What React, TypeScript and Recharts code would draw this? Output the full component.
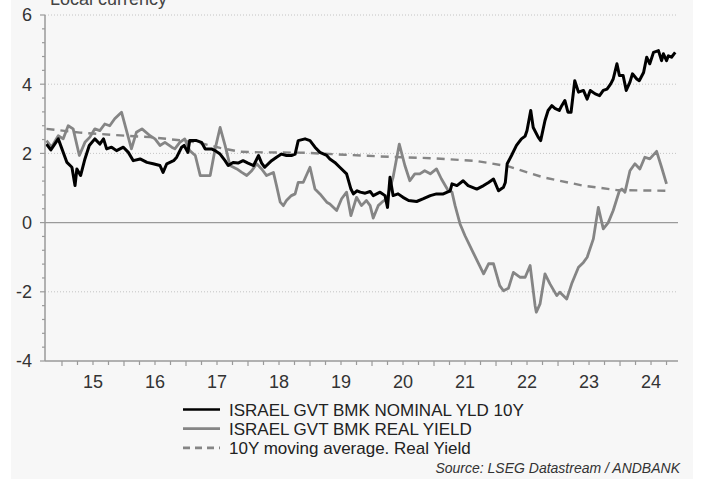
import React from 'react';
import { LineChart, Line, XAxis, YAxis, ReferenceLine } from 'recharts';

// ---- Data (fractional years, % yield) ----
const nominalDates = [
  2014.75, 2014.82, 2014.94, 2015.08, 2015.16, 2015.21, 2015.24, 2015.30, 2015.37, 2015.44,
  2015.53, 2015.61, 2015.67, 2015.72, 2015.80, 2015.88, 2015.99, 2016.07, 2016.15, 2016.26,
  2016.37, 2016.47, 2016.58, 2016.63, 2016.69, 2016.80, 2016.85, 2016.93, 2016.97, 2017.03,
  2017.06, 2017.17, 2017.25, 2017.31, 2017.41, 2017.47, 2017.55, 2017.63, 2017.68, 2017.76,
  2017.84, 2017.92, 2018.00, 2018.09, 2018.17, 2018.22, 2018.27, 2018.38, 2018.46, 2018.54,
  2018.62, 2018.70, 2018.76, 2018.81, 2018.92, 2019.00, 2019.08, 2019.16, 2019.27, 2019.32,
  2019.40, 2019.48, 2019.59, 2019.66, 2019.70, 2019.76, 2019.81, 2019.89, 2019.97, 2020.02,
  2020.13, 2020.21, 2020.25, 2020.29, 2020.34, 2020.42, 2020.50, 2020.59, 2020.72, 2020.83,
  2020.94, 2021.04, 2021.15, 2021.26, 2021.29, 2021.37, 2021.47, 2021.55, 2021.69, 2021.80,
  2021.88, 2021.96, 2022.04, 2022.12, 2022.15, 2022.18, 2022.25, 2022.33, 2022.41, 2022.47,
  2022.50, 2022.56, 2022.60, 2022.68, 2022.72, 2022.79, 2022.84, 2022.90, 2022.95, 2023.02,
  2023.06, 2023.11, 2023.16, 2023.21, 2023.27, 2023.33, 2023.41, 2023.47, 2023.52, 2023.60,
  2023.67, 2023.73, 2023.79, 2023.85, 2023.89, 2023.95, 2023.99, 2024.05, 2024.10, 2024.16,
  2024.20, 2024.27, 2024.31, 2024.38, 2024.43, 2024.48, 2024.54, 2024.62, 2024.67, 2024.70,
  2024.75, 2024.78, 2024.83, 2024.89,
];
const nominalYield = [
  2.27, 2.10, 2.42, 1.74, 1.60, 1.07, 1.55, 1.36, 1.84, 2.23,
  2.42, 2.27, 2.42, 2.13, 2.18, 2.08, 2.18, 2.03, 1.79, 1.84,
  1.74, 1.70, 1.65, 1.45, 1.70, 1.79, 1.89, 2.18, 2.23, 2.03,
  2.37, 2.37, 2.32, 2.13, 2.13, 2.08, 1.98, 1.79, 1.65, 1.74,
  1.72, 1.79, 1.72, 1.65, 1.94, 1.72, 1.60, 1.79, 1.89, 1.98,
  1.94, 1.94, 1.98, 2.37, 2.42, 2.37, 2.18, 2.03, 1.94, 1.84,
  1.74, 1.60, 1.41, 0.97, 0.83, 0.92, 0.88, 0.85, 0.90, 0.78,
  0.88, 0.78, 0.44, 1.31, 0.78, 0.83, 0.73, 0.64, 0.61, 0.69,
  0.78, 0.83, 0.83, 0.92, 1.12, 1.07, 1.21, 1.07, 0.97, 1.07,
  1.16, 1.26, 0.92, 1.02, 1.16, 1.70, 1.94, 2.23, 2.42, 2.50,
  2.66, 3.24, 2.75, 2.47, 2.37, 2.95, 3.24, 3.38, 3.30, 3.24,
  3.38, 3.53, 3.19, 3.19, 4.10, 3.77, 3.82, 3.57, 3.82, 3.72,
  3.67, 3.82, 3.86, 4.01, 4.15, 4.59, 4.25, 4.25, 3.82, 4.06,
  4.30, 4.15, 4.10, 4.34, 4.78, 4.59, 4.92, 4.97, 4.68, 4.88,
  4.68, 4.82, 4.78, 4.92,
];

const realDates = [
  2014.75, 2014.83, 2014.94, 2015.02, 2015.10, 2015.18, 2015.28, 2015.37, 2015.45, 2015.53,
  2015.61, 2015.69, 2015.77, 2015.85, 2015.96, 2016.12, 2016.20, 2016.29, 2016.42, 2016.50,
  2016.58, 2016.66, 2016.77, 2016.82, 2016.90, 2016.98, 2017.06, 2017.15, 2017.23, 2017.39,
  2017.47, 2017.55, 2017.63, 2017.71, 2017.82, 2017.90, 2017.98, 2018.06, 2018.14, 2018.22,
  2018.30, 2018.41, 2018.46, 2018.52, 2018.57, 2018.62, 2018.70, 2018.76, 2018.81, 2018.89,
  2019.00, 2019.08, 2019.16, 2019.27, 2019.32, 2019.43, 2019.51, 2019.59, 2019.66, 2019.75,
  2019.83, 2019.91, 2019.97, 2020.02, 2020.10, 2020.16, 2020.24, 2020.34, 2020.44, 2020.53,
  2020.61, 2020.69, 2020.77, 2020.85, 2020.94, 2021.04, 2021.12, 2021.23, 2021.29, 2021.34,
  2021.42, 2021.50, 2021.63, 2021.80, 2021.88, 2021.96, 2022.06, 2022.12, 2022.20, 2022.28,
  2022.39, 2022.47, 2022.55, 2022.63, 2022.65, 2022.71, 2022.79, 2022.87, 2022.98, 2023.03,
  2023.14, 2023.22, 2023.33, 2023.41, 2023.47, 2023.57, 2023.65, 2023.73, 2023.81, 2023.89,
  2023.99, 2024.03, 2024.08, 2024.16, 2024.24, 2024.32, 2024.40, 2024.48, 2024.59, 2024.67,
  2024.75,
];
const realYield = [
  2.37, 2.18, 2.51, 2.42, 2.80, 2.71, 1.94, 2.32, 2.47, 2.71,
  2.66, 2.85, 2.80, 3.00, 3.19, 2.13, 2.61, 2.71, 2.51, 2.42,
  2.23, 2.32, 2.18, 2.13, 2.32, 2.42, 2.08, 1.94, 1.36, 1.36,
  2.13, 2.75, 2.23, 1.65, 1.55, 1.45, 1.36, 1.50, 1.70, 1.55,
  1.36, 1.45, 1.07, 0.59, 0.49, 0.64, 0.78, 0.83, 1.16, 1.16,
  1.60, 0.97, 0.83, 0.59, 0.54, 0.35, 0.69, 0.88, 0.20, 0.73,
  0.49, 0.64, 0.49, 0.13, 0.49, 0.59, 0.69, 1.31, 2.27, 1.65,
  1.21, 1.41, 1.41, 1.50, 1.41, 1.55, 1.26, 0.92, 0.88, 0.49,
  -0.04, -0.38, -0.86, -1.48, -1.19, -1.19, -1.82, -1.97, -1.90, -1.44,
  -1.58, -1.58, -1.24, -2.40, -2.59, -2.35, -1.48, -1.77, -2.11, -2.01,
  -2.21, -1.77, -1.29, -1.15, -1.00, -0.47, 0.44, -0.18, 0.00, 0.35,
  0.92, 0.97, 0.88, 1.50, 1.70, 1.55, 1.89, 1.84, 2.06, 1.60,
  1.12,
];

const maDates = [
  2014.75, 2015.29, 2015.94, 2016.42, 2016.90, 2017.23, 2017.55, 2017.87, 2018.23, 2018.92,
  2019.56, 2020.29, 2020.98, 2021.69, 2022.19, 2022.76, 2023.40, 2023.95, 2024.76,
];
const maYield = [
  2.71, 2.60, 2.52, 2.47, 2.38, 2.30, 2.16, 2.05, 2.03, 2.02,
  1.96, 1.90, 1.86, 1.78, 1.63, 1.31, 1.07, 0.94, 0.92,
];

const yTicks = [
  -4, -3.6, -3.2, -2.8, -2.4, -2, -1.6, -1.2, -0.8, -0.4, 0,
  0.4, 0.8, 1.2, 1.6, 2, 2.4, 2.8, 3.2, 3.6, 4, 4.4, 4.8, 5.2, 5.6, 6,
];
const yLabelTicks = [-4, -2, 0, 2, 4, 6];
const xTicks = [
  2015, 2015.25, 2015.5, 2015.75, 2016, 2016.25, 2016.5, 2016.75,
  2017, 2017.25, 2017.5, 2017.75, 2018, 2018.25, 2018.5, 2018.75,
  2019, 2019.25, 2019.5, 2019.75, 2020, 2020.25, 2020.5, 2020.75,
  2021, 2021.25, 2021.5, 2021.75, 2022, 2022.25, 2022.5, 2022.75,
  2023, 2023.25, 2023.5, 2023.75, 2024, 2024.25, 2024.5, 2024.75,
];
const xLabelTicks = [2015.5, 2016.5, 2017.5, 2018.5, 2019.5, 2020.5, 2021.5, 2022.5, 2023.5, 2024.5];
const xLabels = ['15', '16', '17', '18', '19', '20', '21', '22', '23', '24'];
const dottedGrid = [6, 4, 2, -2];

const seriesNames = [
  'ISRAEL GVT BMK NOMINAL YLD 10Y',
  'ISRAEL GVT BMK REAL YIELD',
  '10Y moving average. Real Yield',
];

const nominalData = nominalDates.map((t, i) => ({ t, v: nominalYield[i] }));
const realData = realDates.map((t, i) => ({ t, v: realYield[i] }));
const maData = maDates.map((t, i) => ({ t, v: maYield[i] }));

const FONT = '"Liberation Sans", Arial, sans-serif';
const AXIS = '#9a9a9a';
const TEXT = '#333333';
const GRAY = '#858585';

const near = (a: number, b: number) => Math.abs(a - b) < 1e-6;

const YTick = (props: any) => {
  const { x, y, payload } = props;
  const v = payload.value as number;
  const major = yLabelTicks.some((m) => near(m, v));
  return (
    <g>
      <line x1={x - (major ? 5 : 3)} x2={x} y1={y} y2={y} stroke={AXIS} strokeWidth={1.2} />
      {major && (
        <text x={x - 13} y={y} dy="0.36em" textAnchor="end" fontSize={18} fill={TEXT} fontFamily={FONT}>
          {String(v)}
        </text>
      )}
    </g>
  );
};

const XTick = (props: any) => {
  const { x, y, payload } = props;
  const v = payload.value as number;
  const isYear = near(v, Math.round(v));
  const li = xLabelTicks.findIndex((m) => near(m, v));
  return (
    <g>
      <line x1={x} x2={x} y1={y} y2={y + (isYear ? 5 : 4)} stroke={AXIS} strokeWidth={1.2} />
      {li >= 0 && (
        <text x={x} y={y + 27} textAnchor="middle" fontSize={18} fill={TEXT} fontFamily={FONT}>
          {xLabels[li]}
        </text>
      )}
    </g>
  );
};

export default function App() {
  const legendItems = [
    { name: seriesNames[0], color: '#000000', dash: undefined as string | undefined },
    { name: seriesNames[1], color: GRAY, dash: undefined as string | undefined },
    { name: seriesNames[2], color: GRAY, dash: '7 5' },
  ];
  return (
    <div style={{ position: 'absolute', left: 0, top: 0, width: 705, height: 479, background: '#ffffff', overflow: 'hidden' }}>
      <div style={{ position: 'absolute', left: 11, top: 0, width: 682, height: 479, background: '#f7f7f7' }} />
      <div style={{ position: 'absolute', left: 0, top: 0 }}>
        <LineChart width={705} height={479} margin={{ top: 15, right: 27, bottom: 88, left: 10 }}>
          <XAxis
            type="number"
            dataKey="t"
            domain={[2014.726, 2024.935]}
            allowDataOverflow
            ticks={xTicks}
            interval={0}
            tick={XTick}
            tickLine={false}
            tickSize={0}
            tickMargin={0}
            height={30}
            axisLine={{ stroke: AXIS, strokeWidth: 1.5 }}
          />
          <YAxis
            type="number"
            domain={[-4, 6]}
            allowDataOverflow
            ticks={yTicks}
            interval={0}
            tick={YTick}
            tickLine={false}
            tickSize={0}
            tickMargin={0}
            width={35}
            axisLine={{ stroke: AXIS, strokeWidth: 1.5 }}
          />
          {dottedGrid.map((g) => (
            <ReferenceLine key={g} y={g} stroke="#c4c4c4" strokeWidth={1} strokeDasharray="1 2" />
          ))}
          <ReferenceLine y={0} stroke="#9a9a9a" strokeWidth={1.2} />
          <Line
            data={maData}
            dataKey="v"
            type="linear"
            stroke={GRAY}
            strokeWidth={2.4}
            strokeDasharray="8 6"
            dot={false}
            isAnimationActive={false}
          />
          <Line
            data={realData}
            dataKey="v"
            type="linear"
            stroke={GRAY}
            strokeWidth={2.8}
            strokeLinejoin="round"
            dot={false}
            isAnimationActive={false}
          />
          <Line
            data={nominalData}
            dataKey="v"
            type="linear"
            stroke="#000000"
            strokeWidth={3}
            strokeLinejoin="round"
            dot={false}
            isAnimationActive={false}
          />
        </LineChart>
      </div>
      <svg width={705} height={479} style={{ position: 'absolute', left: 0, top: 0, pointerEvents: 'none' }}>
        <text x={50} y={5} fontSize={18} fill="#444" fontFamily={FONT}>Local currency</text>
        {legendItems.map((it, i) => {
          const cy = 409.5 + i * 19.2;
          return (
            <g key={it.name}>
              <line x1={183} x2={220} y1={cy} y2={cy} stroke={it.color} strokeWidth={2.7} strokeDasharray={it.dash} />
              <text x={229} y={cy + 6} fontSize={17} fill="#222" fontFamily={FONT}>{it.name}</text>
            </g>
          );
        })}
        <text x={680} y={473} textAnchor="end" fontSize={14} fontStyle="italic" fill={TEXT} fontFamily={FONT}>
          Source: LSEG Datastream / ANDBANK
        </text>
      </svg>
    </div>
  );
}
